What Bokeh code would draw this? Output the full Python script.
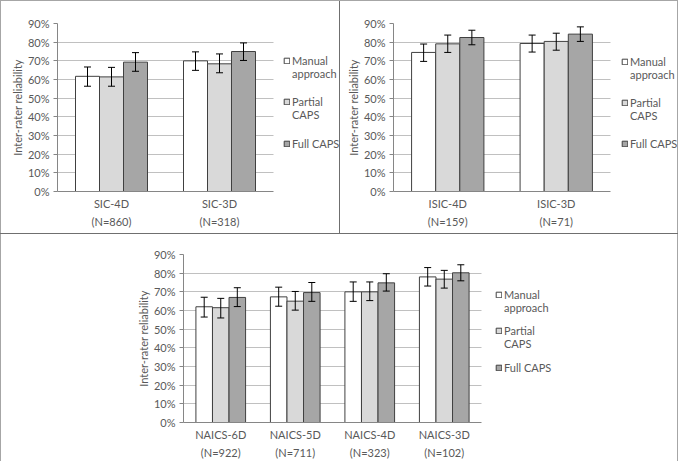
from bokeh.plotting import figure
from bokeh.models import (ColumnDataSource, Range1d, Whisker, TeeHead, FixedTicker,
                          PrintfTickFormatter, Legend, LegendItem, Spacer, LinearAxis)
from bokeh.layouts import row, column
from bokeh.transform import dodge
from bokeh.embed import file_html
from bokeh.resources import INLINE

# Series shared by all three panels (legend text is set on two lines)
series_labels = [["Manual", "approach"], ["Partial", "CAPS"], ["Full CAPS"]]
series_colors = ["#ffffff", "#d9d9d9", "#a6a6a6"]

# SIC panel
sic_cats = ["SIC-4D", "SIC-3D"]
sic_n = ["(N=860)", "(N=318)"]
sic_manual = [61.7, 70.0]
sic_partial = [61.4, 68.4]
sic_full = [69.3, 75.0]
sic_manual_lo = [56.4, 64.9]
sic_manual_hi = [66.7, 74.8]
sic_partial_lo = [56.4, 63.6]
sic_partial_hi = [66.5, 73.7]
sic_full_lo = [64.4, 70.2]
sic_full_hi = [74.4, 79.6]

# ISIC panel
isic_cats = ["ISIC-4D", "ISIC-3D"]
isic_n = ["(N=159)", "(N=71)"]
isic_manual = [74.5, 79.3]
isic_partial = [79.1, 80.4]
isic_full = [82.5, 84.3]
isic_manual_lo = [69.7, 74.7]
isic_manual_hi = [79.0, 83.8]
isic_partial_lo = [74.5, 75.7]
isic_partial_hi = [83.8, 84.8]
isic_full_lo = [78.6, 80.4]
isic_full_hi = [86.4, 88.2]

# NAICS panel
naics_cats = ["NAICS-6D", "NAICS-5D", "NAICS-4D", "NAICS-3D"]
naics_n = ["(N=922)", "(N=711)", "(N=323)", "(N=102)"]
naics_manual = [62.0, 67.3, 70.0, 78.0]
naics_partial = [61.5, 65.0, 70.0, 76.8]
naics_full = [67.0, 69.6, 74.8, 80.2]
naics_manual_lo = [56.5, 62.3, 64.9, 73.1]
naics_manual_hi = [67.1, 72.5, 75.3, 83.0]
naics_partial_lo = [56.0, 60.2, 65.3, 72.0]
naics_partial_hi = [66.5, 70.2, 75.3, 81.5]
naics_full_lo = [62.1, 64.9, 70.4, 75.9]
naics_full_hi = [72.2, 75.0, 79.7, 84.5]

y_ticks = [0, 10, 20, 30, 40, 50, 60, 70, 80, 90]

FONT = "Lato"
TEXT = "#595959"
AXIS = "#868686"
BAR_EDGE = "#404040"
BAR_W = 1 / 4.5          # three bars plus a 150% gap per category
OFFSETS = [-BAR_W, 0.0, BAR_W]
LINE_H = 13              # legend line height in pixels


def style_text_axis(ax, standoff):
    ax.major_label_text_font = FONT
    ax.major_label_text_font_size = "11px"
    ax.major_label_text_color = TEXT
    ax.major_label_standoff = standoff
    ax.major_tick_line_color = None
    ax.minor_tick_line_color = None
    ax.major_tick_out = 0
    ax.major_tick_in = 0


def make_panel(cats, ns, vals, los, his, width, height, bl, bt, plot_w, fh,
               leg_x, leg_rows):
    n = len(cats)
    frame_w = width - bl
    centers = [i + 0.5 for i in range(n)]
    # the frame also holds the legend; the category slots fill plot_w pixels of it
    p = figure(x_range=Range1d(0, n * frame_w / plot_w), y_range=Range1d(0, 90),
               width=width, height=height, output_backend="svg", toolbar_location=None,
               min_border_left=bl, min_border_right=0,
               min_border_top=bt, min_border_bottom=height - bt - fh)
    p.outline_line_color = None
    p.background_fill_color = "white"
    p.border_fill_color = "white"

    # invisible stand-in used for the second line of a legend entry
    blank = p.vbar(x=[], top=[], width=BAR_W, fill_alpha=0, line_alpha=0)

    for k in range(3):
        src = ColumnDataSource(dict(x=centers, top=vals[k], lo=los[k], hi=his[k]))
        xs = dodge("x", OFFSETS[k])
        r = p.vbar(x=xs, top="top", width=BAR_W, source=src,
                   fill_color=series_colors[k], line_color=BAR_EDGE, line_width=1)
        w = Whisker(source=src, base=xs, upper="hi", lower="lo",
                    line_color="black", line_width=1, level="overlay",
                    upper_head=TeeHead(size=7, line_color="black", line_width=1),
                    lower_head=TeeHead(size=7, line_color="black", line_width=1))
        p.add_layout(w)

        lines = series_labels[k]
        items = [LegendItem(label=lines[0], renderers=[r])]
        items += [LegendItem(label=t, renderers=[blank]) for t in lines[1:]]
        # leg_rows[k]: height of the first text line's centre above the frame bottom
        y0 = leg_rows[k] - (len(lines) - 0.5) * LINE_H
        leg = Legend(items=items, location=(plot_w + leg_x, y0))
        leg.glyph_width = 7
        leg.glyph_height = 7
        leg.label_height = LINE_H
        leg.label_text_font = FONT
        leg.label_text_font_size = "11px"
        leg.label_text_color = TEXT
        leg.label_standoff = 2
        leg.spacing = 0
        leg.padding = 0
        leg.margin = 0
        leg.border_line_color = None
        leg.background_fill_alpha = 0
        p.add_layout(leg)

    p.xgrid.visible = False
    p.ygrid.grid_line_color = "#c0c0c0"
    p.ygrid.grid_line_width = 1
    p.ygrid.cross_bounds = (0, n)

    ya = p.yaxis[0]
    ya.ticker = FixedTicker(ticks=y_ticks)
    ya.formatter = PrintfTickFormatter(format="%d%%")
    ya.axis_label = "Inter-rater reliability"
    ya.axis_label_text_font = FONT
    ya.axis_label_text_font_size = "11px"
    ya.axis_label_text_font_style = "normal"
    ya.axis_label_text_color = TEXT
    ya.axis_label_standoff = 1
    style_text_axis(ya, 4)
    ya.axis_line_color = AXIS
    ya.major_tick_line_color = AXIS
    ya.major_tick_out = 4

    xa = p.xaxis[0]
    xa.ticker = FixedTicker(ticks=centers)
    xa.major_label_overrides = dict(zip(centers, cats))
    xa.bounds = (0, n)
    style_text_axis(xa, 5)
    xa.axis_line_color = AXIS

    # second line of each category label: the sample size
    na = LinearAxis(ticker=FixedTicker(ticks=centers),
                    major_label_overrides=dict(zip(centers, ns)))
    style_text_axis(na, 2)
    na.axis_line_color = None
    p.add_layout(na, "below")
    return p


p1 = make_panel(sic_cats, sic_n, [sic_manual, sic_partial, sic_full],
                [sic_manual_lo, sic_partial_lo, sic_full_lo],
                [sic_manual_hi, sic_partial_hi, sic_full_hi],
                338, 232, 56, 20, 216, 170, 10, [131, 90, 48])
p2 = make_panel(isic_cats, isic_n, [isic_manual, isic_partial, isic_full],
                [isic_manual_lo, isic_partial_lo, isic_full_lo],
                [isic_manual_hi, isic_partial_hi, isic_full_hi],
                337, 232, 53, 22, 217, 168, 11, [130, 89, 48])
p3 = make_panel(naics_cats, naics_n, [naics_manual, naics_partial, naics_full],
                [naics_manual_lo, naics_partial_lo, naics_full_lo],
                [naics_manual_hi, naics_partial_hi, naics_full_hi],
                676, 227, 182, 20, 298, 171, 14, [128, 92, 55])


def rule(w, h, color):
    return Spacer(width=w, height=h, styles={"background-color": color})


OUTER = "#a6a6a6"
INNER = "#6f6f6f"
page = column(
    rule(678, 1, OUTER),
    row(rule(1, 232, OUTER), p1, rule(1, 232, INNER), p2, rule(1, 232, OUTER)),
    rule(678, 1, INNER),
    row(rule(1, 227, OUTER), p3, rule(1, 227, OUTER)),
)

open("out.html", "w").write(file_html(page, INLINE))
